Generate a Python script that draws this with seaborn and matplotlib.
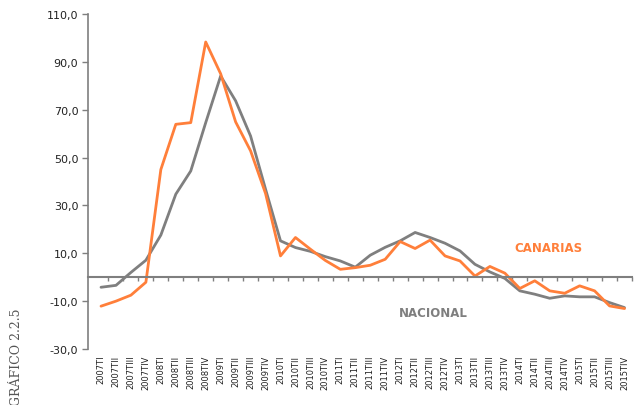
import numpy as np
import pandas as pd
import seaborn as sns
import matplotlib.pyplot as plt

# Quarterly series
periodos = [f"{a}T{q}" for a in range(2007, 2016) for q in ["I", "II", "III", "IV"]]
canarias = [-12.1, -10.0, -7.5, -2.1, 45.0, 63.9, 64.6, 98.3,
            85.0, 64.9, 52.8, 35.0, 8.9, 16.6, 11.7, 7.0,
            3.3, 4.0, 5.0, 7.5, 14.9, 12.0, 15.5, 8.9,
            6.8, 0.5, 4.5, 1.7, -4.7, -1.5, -5.7, -6.7,
            -3.6, -5.7, -12.0, -13.1]
nacional = [-4.2, -3.4, 2.0, 7.1, 17.6, 34.7, 44.4, 64.6,
            84.1, 73.7, 59.0, 36.8, 15.2, 12.4, 10.8, 8.6,
            6.8, 4.2, 9.2, 12.5, 15.2, 18.7, 16.6, 14.2,
            11.0, 5.4, 2.2, -0.5, -5.7, -7.1, -8.8, -7.8,
            -8.2, -8.2, -10.6, -12.7]

NARANJA = "#FF7F3A"
GRIS = "#7F7F7F"

df = pd.DataFrame({
    "idx": list(range(len(periodos))) * 2,
    "valor": canarias + nacional,
    "serie": ["CANARIAS"] * len(periodos) + ["NACIONAL"] * len(periodos),
})

sns.set_style("white")
plt.rcParams["font.family"] = ["DejaVu Sans"]

fig = plt.figure(figsize=(6.35, 4.06), dpi=100)
ax = fig.add_axes([88 / 635, 1 - 350 / 406, 544 / 635, 335 / 406])

sns.lineplot(data=df, x="idx", y="valor", hue="serie",
             palette={"CANARIAS": NARANJA, "NACIONAL": GRIS},
             hue_order=["NACIONAL", "CANARIAS"],
             linewidth=2.0, legend=False, ax=ax)

ax.set_xlim(-0.87, 35.33)
ax.set_ylim(-30, 110)
ax.set_yticks(np.arange(-30, 111, 20))
ax.set_yticklabels([f"{v:.1f}".replace(".", ",") for v in np.arange(-30, 111, 20)],
                   fontsize=8, color="#222222")
ax.set_xlabel("")
ax.set_ylabel("")

for s in ["top", "right"]:
    ax.spines[s].set_visible(False)
ax.spines["left"].set_color(GRIS)
ax.spines["left"].set_linewidth(1.2)
ax.spines["bottom"].set_position(("data", 0))
ax.spines["bottom"].set_color(GRIS)
ax.spines["bottom"].set_linewidth(1.5)

ax.tick_params(axis="y", left=True, direction="out", length=4, width=1,
               color=GRIS, pad=3)
# tick marks on the zero line between categories
ax.set_xticks(np.arange(len(periodos)) + 0.5)
ax.tick_params(axis="x", bottom=True, direction="out", length=3, width=1,
               color=GRIS, labelbottom=False)

# category labels at the bottom of the plot area
sec = ax.secondary_xaxis(0)
sec.set_xticks(range(len(periodos)))
sec.set_xticklabels(periodos, rotation=90, fontsize=6, color="#222222")
sec.tick_params(length=0, pad=4)
sec.spines["bottom"].set_visible(False)

ax.text(29.9, 12.5, "CANARIAS", color=NARANJA, fontsize=8.5,
        fontweight="bold", ha="center", va="center")
ax.text(22.2, -14.6, "NACIONAL", color=GRIS, fontsize=8.5,
        fontweight="bold", ha="center", va="center")

fig.text(17 / 635, 1 - 357 / 406, "GRÁFICO 2.2.5", rotation=90,
         family="DejaVu Serif", fontsize=9, color="#555555",
         ha="center", va="center")

fig.savefig("out.png", dpi=100)
